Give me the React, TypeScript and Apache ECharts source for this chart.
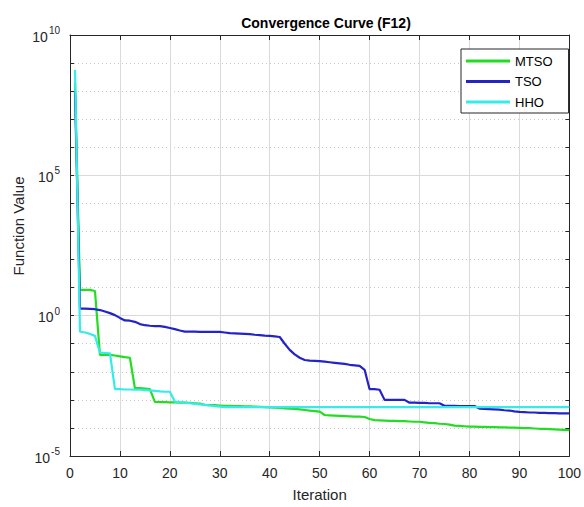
import React, { useEffect, useRef } from 'react';
import * as echarts from 'echarts';

const titleText = 'Convergence Curve (F12)';
const xAxisName = 'Iteration';
const yAxisName = 'Function Value';
const seriesNames = ['MTSO', 'TSO', 'HHO'];
const seriesColors = ['#22dd22', '#2323c8', '#38ebeb'];

// Iteration numbers 1..100
const iterations: number[] = [
  1, 2, 3, 4, 5, 6, 7, 8, 9, 10, 11, 12, 13, 14, 15, 16, 17, 18, 19, 20,
  21, 22, 23, 24, 25, 26, 27, 28, 29, 30, 31, 32, 33, 34, 35, 36, 37, 38, 39, 40,
  41, 42, 43, 44, 45, 46, 47, 48, 49, 50, 51, 52, 53, 54, 55, 56, 57, 58, 59, 60,
  61, 62, 63, 64, 65, 66, 67, 68, 69, 70, 71, 72, 73, 74, 75, 76, 77, 78, 79, 80,
  81, 82, 83, 84, 85, 86, 87, 88, 89, 90, 91, 92, 93, 94, 95, 96, 97, 98, 99, 100,
];

// Best function value per iteration, given as decimal exponents (value = 10^exp)
const mtsoExp: number[] = [
  8.3, 0.92, 0.92, 0.92, 0.88, -1.40, -1.40, -1.40, -1.42, -1.45,
  -1.48, -1.50, -2.58, -2.58, -2.60, -2.62, -3.07, -3.08, -3.08, -3.09,
  -3.09, -3.10, -3.10, -3.11, -3.12, -3.13, -3.18, -3.19, -3.19, -3.20,
  -3.21, -3.21, -3.22, -3.22, -3.23, -3.23, -3.24, -3.25, -3.26, -3.27,
  -3.28, -3.29, -3.30, -3.31, -3.32, -3.34, -3.36, -3.38, -3.40, -3.42,
  -3.54, -3.55, -3.56, -3.57, -3.58, -3.59, -3.60, -3.60, -3.61, -3.68,
  -3.72, -3.73, -3.74, -3.75, -3.75, -3.76, -3.76, -3.77, -3.78, -3.78,
  -3.80, -3.82, -3.83, -3.85, -3.86, -3.88, -3.92, -3.93, -3.94, -3.95,
  -3.95, -3.96, -3.96, -3.97, -3.97, -3.98, -3.98, -3.99, -3.99, -4.00,
  -4.01, -4.01, -4.02, -4.03, -4.03, -4.04, -4.05, -4.06, -4.07, -4.08,
];

const tsoExp: number[] = [
  8.0, 0.25, 0.25, 0.24, 0.23, 0.20, 0.15, 0.09, 0.02, -0.08,
  -0.17, -0.18, -0.22, -0.30, -0.34, -0.36, -0.37, -0.37, -0.40, -0.44,
  -0.48, -0.53, -0.57, -0.57, -0.57, -0.58, -0.58, -0.58, -0.58, -0.58,
  -0.60, -0.62, -0.63, -0.64, -0.65, -0.66, -0.68, -0.69, -0.71, -0.72,
  -0.74, -0.76, -1.00, -1.22, -1.38, -1.50, -1.58, -1.60, -1.61, -1.62,
  -1.64, -1.66, -1.68, -1.70, -1.72, -1.75, -1.77, -1.79, -1.93, -2.62,
  -2.62, -2.64, -3.00, -3.00, -3.00, -3.00, -3.00, -3.10, -3.10, -3.11,
  -3.11, -3.12, -3.12, -3.12, -3.21, -3.21, -3.21, -3.22, -3.22, -3.22,
  -3.22, -3.31, -3.32, -3.33, -3.34, -3.35, -3.37, -3.38, -3.41, -3.43,
  -3.44, -3.45, -3.45, -3.46, -3.46, -3.47, -3.47, -3.48, -3.48, -3.48,
];

const hhoExp: number[] = [
  8.75, -0.57, -0.60, -0.65, -0.72, -1.32, -1.33, -1.34, -2.62, -2.62,
  -2.63, -2.63, -2.64, -2.64, -2.65, -2.66, -2.68, -2.70, -2.71, -2.71,
  -3.06, -3.08, -3.10, -3.12, -3.14, -3.16, -3.18, -3.20, -3.22, -3.24,
  -3.26, -3.26, -3.26, -3.26, -3.26, -3.26, -3.26, -3.26, -3.26, -3.26,
  -3.26, -3.26, -3.26, -3.26, -3.26, -3.26, -3.26, -3.26, -3.26, -3.26,
  -3.26, -3.26, -3.26, -3.26, -3.26, -3.26, -3.26, -3.26, -3.26, -3.26,
  -3.26, -3.26, -3.26, -3.26, -3.26, -3.26, -3.26, -3.26, -3.26, -3.26,
  -3.26, -3.26, -3.26, -3.26, -3.26, -3.26, -3.26, -3.26, -3.26, -3.26,
  -3.26, -3.26, -3.26, -3.26, -3.26, -3.26, -3.26, -3.26, -3.26, -3.26,
  -3.26, -3.26, -3.26, -3.26, -3.26, -3.26, -3.26, -3.26, -3.26, -3.26,
];

const xTicks = [0, 10, 20, 30, 40, 50, 60, 70, 80, 90, 100];
const yMinExp = -5;
const yMaxExp = 10;

const FONT = '"Liberation Sans", Arial, Helvetica, sans-serif';
const AXIS_COLOR = '#262626';

export default function App() {
  const ref = useRef<HTMLDivElement>(null);

  useEffect(() => {
    if (!ref.current) return;
    const chart = echarts.init(ref.current, null, { renderer: 'svg' });

    const toPairs = (exps: number[]) => iterations.map((it, i) => [it, Math.pow(10, exps[i])]);
    const allExp = [mtsoExp, tsoExp, hhoExp];

    const yLabelFormatter = (v: number) => {
      const e = Math.round(Math.log10(v));
      if (e % 5 !== 0) return '';
      return `{b|10}{s|${e}}`;
    };

    const option: any = {
      animation: false,
      backgroundColor: '#ffffff',
      textStyle: { fontFamily: FONT },
      title: {
        text: titleText,
        left: 321,
        top: 11,
        textAlign: 'center',
        textStyle: { fontFamily: FONT, fontSize: 14, fontWeight: 'bold', color: '#000000' },
      },
      grid: { left: 70, right: 12, top: 35, bottom: 51, containLabel: false },
      legend: {
        data: seriesNames,
        orient: 'vertical',
        left: 461,
        top: 49,
        padding: [5, 16, 4, 5],
        itemWidth: 44,
        itemHeight: 3,
        itemGap: 6.5,
        itemTextGap: 5,
        icon: 'rect',
        backgroundColor: '#ffffff',
        borderColor: AXIS_COLOR,
        borderWidth: 1,
        borderRadius: 0,
        textStyle: { fontFamily: FONT, fontSize: 13, color: '#000000', lineHeight: 14 },
      },
      xAxis: [
        {
          type: 'value',
          min: xTicks[0],
          max: xTicks[xTicks.length - 1],
          interval: 10,
          name: xAxisName,
          nameLocation: 'middle',
          nameGap: 31,
          nameTextStyle: { fontFamily: FONT, fontSize: 15, color: AXIS_COLOR },
          axisLine: { show: true, lineStyle: { color: AXIS_COLOR, width: 1 } },
          axisTick: { show: true, inside: true, length: 5, lineStyle: { color: AXIS_COLOR } },
          axisLabel: { fontFamily: FONT, fontSize: 14, color: AXIS_COLOR, margin: 10 },
          splitLine: { show: true, lineStyle: { color: '#dadada', width: 1, type: 'solid' } },
        },
        {
          type: 'value',
          position: 'top',
          min: xTicks[0],
          max: xTicks[xTicks.length - 1],
          interval: 10,
          axisLine: { show: true, onZero: false, lineStyle: { color: AXIS_COLOR, width: 1 } },
          axisTick: { show: true, inside: true, length: 5, lineStyle: { color: AXIS_COLOR } },
          axisLabel: { show: false },
          splitLine: { show: false },
        },
      ],
      yAxis: [
        {
          type: 'log',
          logBase: 10,
          min: Math.pow(10, yMinExp),
          max: Math.pow(10, yMaxExp),
          interval: 1,
          splitNumber: 15,
          axisLine: { show: true, onZero: false, lineStyle: { color: AXIS_COLOR, width: 1 } },
          axisTick: { show: true, inside: true, length: 4, lineStyle: { color: AXIS_COLOR } },
          axisLabel: {
            formatter: yLabelFormatter,
            margin: 10,
            padding: [3, 0, 0, 0],
            rich: {
              b: { fontFamily: FONT, fontSize: 14, lineHeight: 14, color: AXIS_COLOR, verticalAlign: 'bottom' },
              s: { fontFamily: FONT, fontSize: 10, lineHeight: 10, color: AXIS_COLOR, verticalAlign: 'bottom', padding: [0, 0, 8, 1] },
            },
          },
          splitLine: { show: true, lineStyle: { color: '#c8c8c8', width: 1, type: [1, 3] } },
        },
        {
          type: 'log',
          logBase: 10,
          position: 'right',
          min: Math.pow(10, yMinExp),
          max: Math.pow(10, yMaxExp),
          interval: 1,
          splitNumber: 15,
          axisLine: { show: true, onZero: false, lineStyle: { color: AXIS_COLOR, width: 1 } },
          axisTick: { show: true, inside: true, length: 4, lineStyle: { color: AXIS_COLOR } },
          axisLabel: { show: false },
          splitLine: { show: false },
        },
        {
          type: 'log',
          logBase: 10,
          position: 'left',
          min: Math.pow(10, yMinExp),
          max: Math.pow(10, yMaxExp),
          interval: 5,
          splitNumber: 3,
          axisLine: { show: false },
          axisTick: { show: false },
          axisLabel: { show: false },
          splitLine: { show: true, lineStyle: { color: '#dadada', width: 1, type: 'solid' } },
        },
      ],
      graphic: [
        {
          type: 'text',
          x: 18,
          y: 226,
          rotation: Math.PI / 2,
          style: {
            text: yAxisName,
            fontFamily: FONT,
            fontSize: 15,
            fill: AXIS_COLOR,
            align: 'center',
            verticalAlign: 'middle',
          },
        },
      ],
      series: seriesNames.map((name, i) => ({
        name,
        type: 'line',
        xAxisIndex: 0,
        yAxisIndex: 0,
        data: toPairs(allExp[i]),
        showSymbol: false,
        symbol: 'none',
        color: seriesColors[i],
        lineStyle: { color: seriesColors[i], width: 2.2 },
        z: 3 + i,
      })),
    };

    chart.setOption(option);
    return () => chart.dispose();
  }, []);

  return (
    <div
      ref={ref}
      style={{ position: 'absolute', left: 0, top: 0, width: 584, height: 507, background: '#ffffff' }}
    />
  );
}
